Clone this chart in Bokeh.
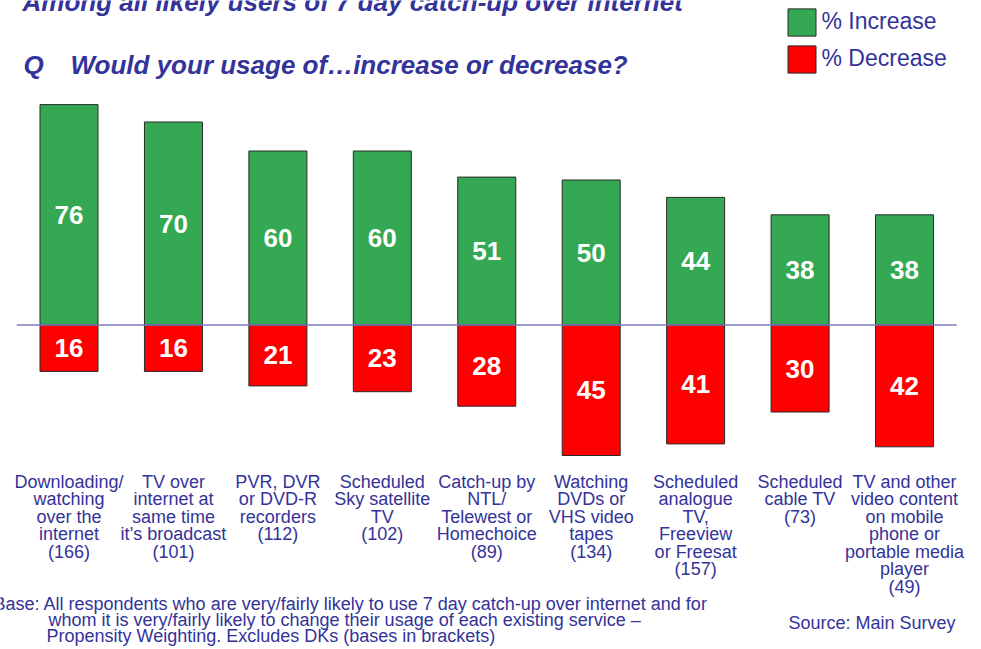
from bokeh.plotting import figure
from bokeh.models import ColumnDataSource, Range1d, Label, Legend, LegendItem
from bokeh.core.properties import value
from bokeh.embed import file_html
from bokeh.resources import INLINE

# ---------------- data ----------------
categories = [
    "Downloading/\nwatching\nover the\ninternet\n(166)",
    "TV over\ninternet at\nsame time\nit\u2019s broadcast\n(101)",
    "PVR, DVR\nor DVD-R\nrecorders\n(112)",
    "Scheduled\nSky satellite\nTV\n(102)",
    "Catch-up by\nNTL/\nTelewest or\nHomechoice\n(89)",
    "Watching\nDVDs or\nVHS video\ntapes\n(134)",
    "Scheduled\nanalogue\nTV,\nFreeview\nor Freesat\n(157)",
    "Scheduled\ncable TV\n(73)",
    "TV and other\nvideo content\non mobile\nphone or\nportable media\nplayer\n(49)",
]
increase = [76, 70, 60, 60, 51, 50, 44, 38, 38]
decrease = [16, 16, 21, 23, 28, 45, 41, 30, 42]

title_line1 = "Among all likely users of 7 day catch-up over internet"
title_q = "Q"
title_line2 = "Would your usage of\u2026increase or decrease?"
legend_labels = ["% Increase", "% Decrease"]
base_note = [
    "Base: All respondents who are very/fairly likely to use 7 day catch-up over internet and for",
    "whom it is very/fairly likely to change their usage of each existing service \u2013",
    "Propensity Weighting. Excludes DKs (bases in brackets)",
]
source_note = "Source: Main Survey"

# ---------------- layout constants ----------------
W, H = 981, 649
PX_X = 104.44           # pixels per category
X0 = -68.5 / PX_X       # left edge in data units
PX_Y = 2.9              # pixels per percentage point
BASE_PY = 324.5         # baseline position from top (px)
Y_TOP = BASE_PY / PX_Y
Y_BOT = -(H - BASE_PY) / PX_Y

BLUE = "#333399"
GREEN = "#34A853"
RED = "#FF0000"
FONT = "Liberation Sans"


def y_from_top(py):
    return Y_TOP - py / PX_Y


n = len(categories)
xs = list(range(n))
src = ColumnDataSource(dict(
    x=xs,
    inc=increase,
    dec=[-d for d in decrease],
    inc_mid=[v / 2 for v in increase],
    dec_mid=[-d / 2 for d in decrease],
    inc_txt=[str(v) for v in increase],
    dec_txt=[str(d) for d in decrease],
    cat=categories,
))

p = figure(width=W, height=H, output_backend="svg", toolbar_location=None,
           x_range=Range1d(X0, X0 + W / PX_X), y_range=Range1d(Y_BOT, Y_TOP),
           x_axis_location=None, y_axis_location=None, min_border=0,
           background_fill_color="white", border_fill_color="white",
           outline_line_color=None)
p.grid.visible = False

bw = 58 / PX_X
r_inc = p.vbar(x="x", top="inc", bottom=0, width=bw, source=src,
               fill_color=GREEN, line_color="#2a2a2a", line_width=1)
r_dec = p.vbar(x="x", top=0, bottom="dec", width=bw, source=src,
               fill_color=RED, line_color="#2a2a2a", line_width=1)

# baseline
p.segment(x0=-0.5, y0=0, x1=n - 0.5, y1=0, line_color="#7B7BC0", line_width=1.6)

# value labels
p.text(x="x", y="inc_mid", text="inc_txt", source=src, text_color="white",
       text_font=value(FONT), text_font_style="bold", text_font_size="26px",
       text_align="center", text_baseline="middle")
p.text(x="x", y="dec_mid", text="dec_txt", source=src, text_color="white",
       text_font=value(FONT), text_font_style="bold", text_font_size="26px",
       text_align="center", text_baseline="middle")

# category labels
p.text(x="x", y=y_from_top(471), text="cat", source=src, text_color=BLUE,
       text_font=value(FONT), text_font_size="18px", text_align="center",
       text_baseline="top", text_line_height=0.875)


def lab(text, x, y_mid_px, size, style="normal", color=BLUE):
    p.add_layout(Label(x=x, y=H - y_mid_px, x_units="screen", y_units="screen",
                       text=text, text_font=FONT, text_font_size=size,
                       text_font_style=style, text_color=color,
                       text_baseline="middle"))


# titles
lab(title_line1, 22, 1, "26px", "bold italic")
lab(title_q, 23, 64, "26px", "bold italic")
lab(title_line2, 70, 64, "26px", "bold italic")

# footnotes
lab(base_note[0], -7, 603, "18px")
lab(base_note[1], 48, 619, "18px")
lab(base_note[2], 46, 635, "18px")
lab(source_note, 788, 622, "18px")

# legend
legend = Legend(items=[LegendItem(label=legend_labels[0], renderers=[r_inc]),
                       LegendItem(label=legend_labels[1], renderers=[r_dec])],
                location=(783.5, H - 75.6), orientation="vertical",
                glyph_width=35, glyph_height=34, label_height=34,
                spacing=3, padding=0, margin=0, label_standoff=3,
                label_text_font=FONT, label_text_font_size="23px",
                label_text_color=BLUE, border_line_color=None,
                background_fill_alpha=0)
p.add_layout(legend, "center")

open("out.html", "w").write(file_html(p, INLINE))
